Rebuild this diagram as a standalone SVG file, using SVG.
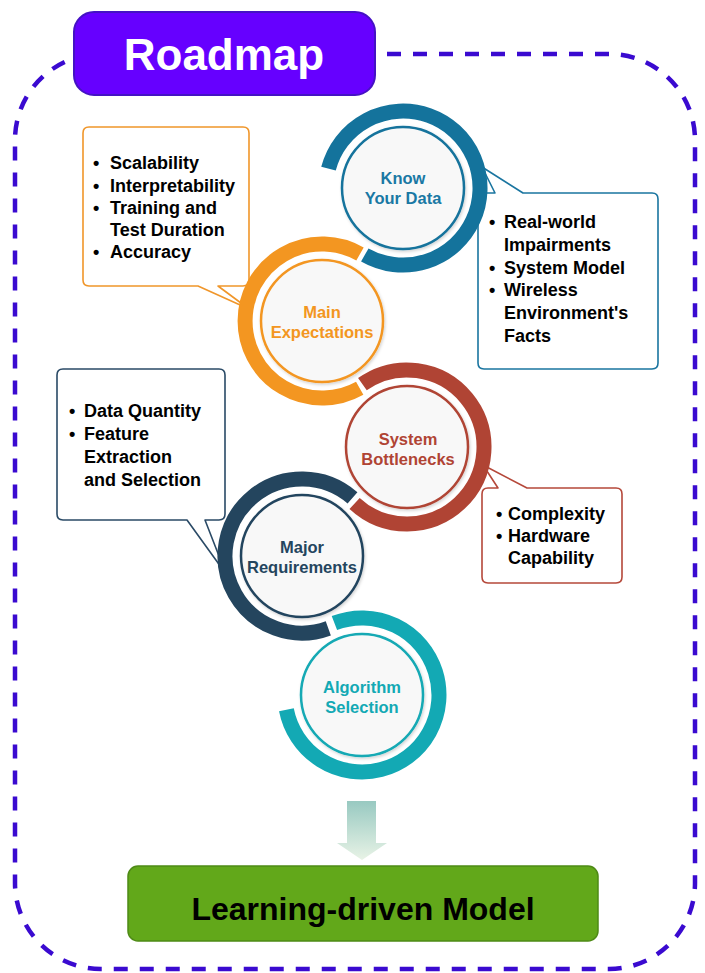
<svg xmlns="http://www.w3.org/2000/svg" width="705" height="973" viewBox="0 0 705 973">
<defs>
<linearGradient id="arrowGrad" x1="0" y1="0" x2="0" y2="1">
<stop offset="0" stop-color="#98c9c1"/>
<stop offset="1" stop-color="#e8f3e6"/>
</linearGradient>
<filter id="sh" x="-20%" y="-20%" width="140%" height="140%">
<feDropShadow dx="1" dy="1.5" stdDeviation="1.5" flood-color="#000" flood-opacity="0.18"/>
</filter>
</defs>
<style>
.ring{fill:none;stroke-width:15}
.inner{fill:#f8f8f8;stroke-width:2.5;filter:url(#sh)}
.ctext{font-family:"Liberation Sans",Arial,sans-serif;font-weight:bold;font-size:16.5px;text-anchor:middle}
.call{fill:#ffffff;stroke-width:1.6;stroke-linejoin:round}
.btext{font-family:"Liberation Sans",Arial,sans-serif;font-weight:bold;font-size:18px;fill:#000000}
</style>

<rect id="frame" x="15" y="54" width="680" height="915" rx="86" ry="86" fill="none" stroke="#3a0ad0" stroke-width="4.5" stroke-dasharray="14 12"/>

<g id="title">
<rect x="74" y="12" width="301" height="83" rx="20" ry="20" fill="#6600ff" stroke="#4512c4" stroke-width="2"/>
<text x="224" y="70" font-family="'Liberation Sans',Arial,sans-serif" font-weight="bold" font-size="44" fill="#ffffff" text-anchor="middle">Roadmap</text>
</g>

<g id="callouts">
<g id="callout-expectations">
<path class="call" stroke="#f0962a" d="M89 127 H243 Q249 127 249 133 V280 Q249 286 243 286 H218 L249 309 L198 286 H89 Q83 286 83 280 V133 Q83 127 89 127 Z"/>
<text class="btext" x="93" y="169.3">•</text><text class="btext" x="110" y="169.3">Scalability</text>
<text class="btext" x="93" y="191.5">•</text><text class="btext" x="110" y="191.5">Interpretability</text>
<text class="btext" x="93" y="213.8">•</text><text class="btext" x="110" y="213.8">Training and</text>
<text class="btext" x="110" y="236">Test Duration</text>
<text class="btext" x="93" y="258.3">•</text><text class="btext" x="110" y="258.3">Accuracy</text>
</g>
<g id="callout-data">
<path class="call" stroke="#1a75a0" d="M484 193 H495 L482 167 L523 193 H652 Q658 193 658 199 V363 Q658 369 652 369 H484 Q478 369 478 363 V199 Q478 193 484 193 Z"/>
<text class="btext" x="489" y="228.3">•</text><text class="btext" x="504" y="228.3">Real-world</text>
<text class="btext" x="504" y="251">Impairments</text>
<text class="btext" x="489" y="273.7">•</text><text class="btext" x="504" y="273.7">System Model</text>
<text class="btext" x="489" y="296.4">•</text><text class="btext" x="504" y="296.4">Wireless</text>
<text class="btext" x="504" y="319">Environment's</text>
<text class="btext" x="504" y="341.7">Facts</text>
</g>
<g id="callout-requirements">
<path class="call" stroke="#2a4a66" d="M63 369 H219 Q225 369 225 375 V514 Q225 520 219 520 H205 L226 574 L187 520 H63 Q57 520 57 514 V375 Q57 369 63 369 Z"/>
<text class="btext" x="69" y="417.3">•</text><text class="btext" x="84" y="417.3">Data Quantity</text>
<text class="btext" x="69" y="440.2">•</text><text class="btext" x="84" y="440.2">Feature</text>
<text class="btext" x="84" y="463.1">Extraction</text>
<text class="btext" x="84" y="486">and Selection</text>
</g>
<g id="callout-bottlenecks">
<path class="call" stroke="#b5483a" d="M488 488 H498 L483 465 L527 488 H616 Q622 488 622 494 V577 Q622 583 616 583 H488 Q482 583 482 577 V494 Q482 488 488 488 Z"/>
<text class="btext" x="496" y="520">•</text><text class="btext" x="508" y="520">Complexity</text>
<text class="btext" x="496" y="542.2">•</text><text class="btext" x="508" y="542.2">Hardware</text>
<text class="btext" x="508" y="564.4">Capability</text>
</g>
</g>

<g id="node-know-your-data">
<path class="ring" stroke="#14739c" d="M328.5 168.7 A77 77 0 1 1 364.8 254.9"/>
<circle class="inner" cx="403" cy="188" r="61" stroke="#14739c"/>
<text class="ctext" fill="#1a78a4" x="403" y="184">Know</text>
<text class="ctext" fill="#1a78a4" x="403" y="204">Your Data</text>
</g>

<g id="node-main-expectations">
<path class="ring" stroke="#f39621" d="M359.7 388.2 A77 77 0 1 1 360.0 254.0"/>
<circle class="inner" cx="322" cy="321" r="61" stroke="#f39621"/>
<text class="ctext" fill="#f39621" x="322" y="318">Main</text>
<text class="ctext" fill="#f39621" x="322" y="338">Expectations</text>
</g>

<g id="node-system-bottlenecks">
<path class="ring" stroke="#b04434" d="M362.4 384.2 A77 77 0 1 1 354.6 503.4"/>
<circle class="inner" cx="407" cy="447" r="61" stroke="#b04434"/>
<text class="ctext" fill="#b04434" x="408" y="445">System</text>
<text class="ctext" fill="#b04434" x="408" y="465">Bottlenecks</text>
</g>

<g id="node-major-requirements">
<path class="ring" stroke="#24455e" d="M328.3 628.4 A77 77 0 1 1 352.5 497.9"/>
<circle class="inner" cx="302" cy="556" r="61" stroke="#24455e"/>
<text class="ctext" fill="#24455e" x="302" y="553">Major</text>
<text class="ctext" fill="#24455e" x="302" y="573">Requirements</text>
</g>

<g id="node-algorithm-selection">
<path class="ring" stroke="#13a9b4" d="M334.4 623.1 A77 77 0 1 1 286.4 709.7"/>
<circle class="inner" cx="362" cy="695" r="61" stroke="#13a9b4"/>
<text class="ctext" fill="#13a9b4" x="362" y="693">Algorithm</text>
<text class="ctext" fill="#13a9b4" x="362" y="713">Selection</text>
</g>

<g id="connectors">
<path d="M347 801 H376 V843 H387 L362 860 L337 843 H347 Z" fill="url(#arrowGrad)"/>
</g>

<g id="node-learning-model">
<rect x="128" y="866" width="470" height="75" rx="10" ry="10" fill="#62a81a" stroke="#4e8a16" stroke-width="1.5"/>
<text x="363" y="920" font-family="'Liberation Sans',Arial,sans-serif" font-weight="bold" font-size="32" fill="#000000" text-anchor="middle">Learning-driven Model</text>
</g>
</svg>
